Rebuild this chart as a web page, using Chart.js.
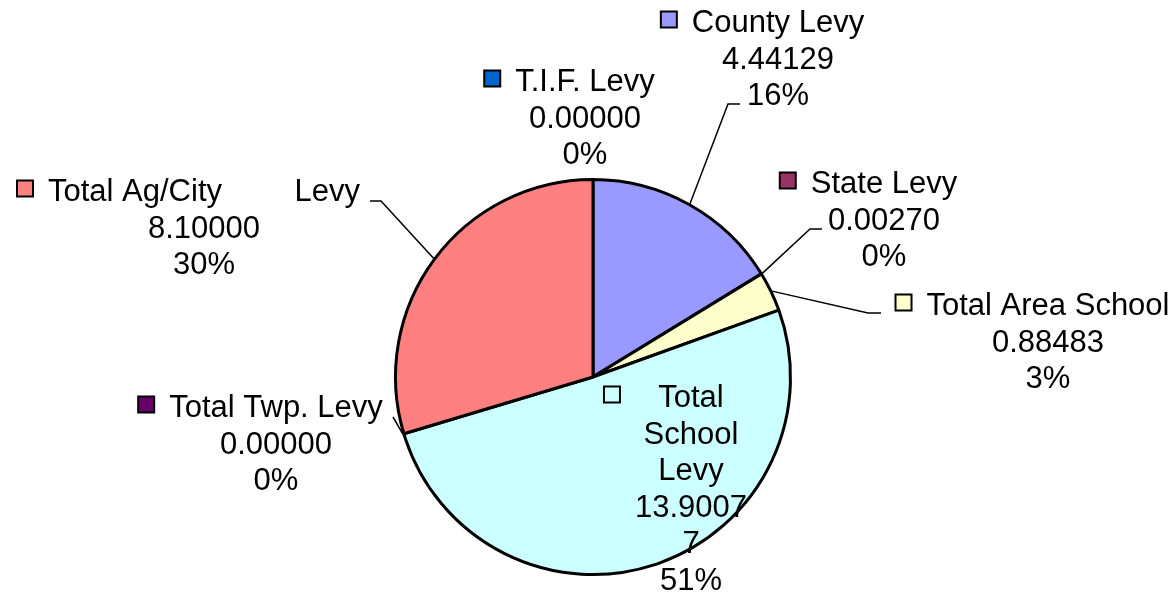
<!DOCTYPE html>
<html>
<head>
<meta charset="utf-8">
<script src="https://cdn.jsdelivr.net/npm/chart.js@4"></script>
<style>
html, body { margin: 0; padding: 0; background: #fff; }
#wrap { width: 1175px; height: 598px; }
</style>
</head>
<body>
<div id="wrap"><canvas id="levyChart"></canvas></div>
<script>
const categories = ['County Levy', 'State Levy', 'Total Area School', 'Total School Levy', 'Total Twp. Levy', 'Total Ag/City Levy', 'T.I.F. Levy'];
const levyValues = [4.44129, 0.00270, 0.88483, 13.90077, 0.00000, 8.10000, 0.00000];
const sliceColors = ['#9999FF', '#993366', '#FFFFCC', '#CCFFFF', '#660066', '#FF8080', '#0066CC'];

// where each label block goes: x = centre of text, y = first baseline
const labelSpots = [
    { x: 778, y: 32, elbow: [728, 104], end: 740 },
    { x: 884, y: 193, elbow: [810, 229], end: 822 },
    { x: 1048, y: 315, elbow: [868, 313], end: 881 },
    { x: 691, y: 407, wrap: 115 },
    { x: 276, y: 417, elbow: [393, 417] },
    { x: 204, y: 201, spread: 312, elbow: [381, 201], end: 370 },
    { x: 585, y: 91 }
];

const FONT = '31px "Liberation Sans", Arial, sans-serif';
const LINE = 36.6;

function wrapText(ctx, text, maxWidth) {
    const out = [];
    let line = '';
    text.split(' ').forEach(word => {
        const test = line ? line + ' ' + word : word;
        if (ctx.measureText(test).width <= maxWidth) {
            line = test;
            return;
        }
        if (line) out.push(line);
        line = '';
        // break a word that is too long on its own
        let piece = '';
        for (const ch of word) {
            if (ctx.measureText(piece + ch).width > maxWidth && piece) {
                out.push(piece);
                piece = ch;
            } else {
                piece += ch;
            }
        }
        line = piece;
    });
    if (line) out.push(line);
    return out;
}

const sliceLabels = {
    id: 'sliceLabels',
    afterDraw(chart) {
        const ctx = chart.ctx;
        const meta = chart.getDatasetMeta(0);
        const total = levyValues.reduce((a, b) => a + b, 0);
        ctx.save();
        ctx.font = FONT;
        ctx.fillStyle = '#000';
        ctx.textBaseline = 'alphabetic';

        meta.data.forEach((arc, i) => {
            const spot = labelSpots[i];
            const mid = (arc.startAngle + arc.endAngle) / 2;
            const px = arc.x + Math.cos(mid) * (arc.outerRadius + 1);
            const py = arc.y + Math.sin(mid) * (arc.outerRadius + 1);

            if (spot.elbow) {
                ctx.strokeStyle = '#000';
                ctx.lineWidth = 1.5;
                ctx.beginPath();
                ctx.moveTo(px, py);
                ctx.lineTo(spot.elbow[0], spot.elbow[1]);
                if (spot.end !== undefined) ctx.lineTo(spot.end, spot.elbow[1]);
                ctx.stroke();
            }

            const pct = Math.round(levyValues[i] / total * 100) + '%';
            const valText = levyValues[i].toFixed(5);
            let lines;
            if (spot.wrap) {
                lines = wrapText(ctx, categories[i], spot.wrap)
                    .concat(wrapText(ctx, valText, spot.wrap), [pct]);
            } else {
                lines = [categories[i], valText, pct];
            }

            let blockLeft;
            if (spot.spread) {
                blockLeft = spot.x - spot.spread / 2;
            } else {
                const widest = Math.max(...lines.map(l => ctx.measureText(l).width));
                blockLeft = spot.x - widest / 2;
            }

            lines.forEach((ln, k) => {
                const y = spot.y + k * LINE;
                if (k === 0 && spot.spread) {
                    const cut = ln.lastIndexOf(' ');
                    ctx.textAlign = 'left';
                    ctx.fillText(ln.slice(0, cut), blockLeft, y);
                    ctx.textAlign = 'right';
                    ctx.fillText(ln.slice(cut + 1), spot.x + spot.spread / 2, y);
                } else {
                    ctx.textAlign = 'center';
                    ctx.fillText(ln, spot.x, y);
                }
            });

            // legend key in front of the block
            const sz = 16;
            const kx = blockLeft - 15 - sz;
            const ky = spot.y - 12.5 - sz / 2;
            ctx.fillStyle = sliceColors[i];
            ctx.fillRect(kx, ky, sz, sz);
            ctx.strokeStyle = '#000';
            ctx.lineWidth = 2;
            ctx.strokeRect(kx, ky, sz, sz);
            ctx.fillStyle = '#000';
        });
        ctx.restore();
    }
};

new Chart(document.getElementById('levyChart'), {
    type: 'pie',
    data: {
        labels: categories,
        datasets: [{
            data: levyValues,
            backgroundColor: sliceColors,
            borderColor: '#000',
            borderWidth: 3
        }]
    },
    options: {
        responsive: true,
        maintainAspectRatio: false,
        animation: false,
        layout: { padding: { left: 394, right: 383, top: 178, bottom: 22 } },
        plugins: {
            legend: { display: false },
            tooltip: { enabled: false }
        }
    },
    plugins: [sliceLabels]
});
</script>
</body>
</html>
